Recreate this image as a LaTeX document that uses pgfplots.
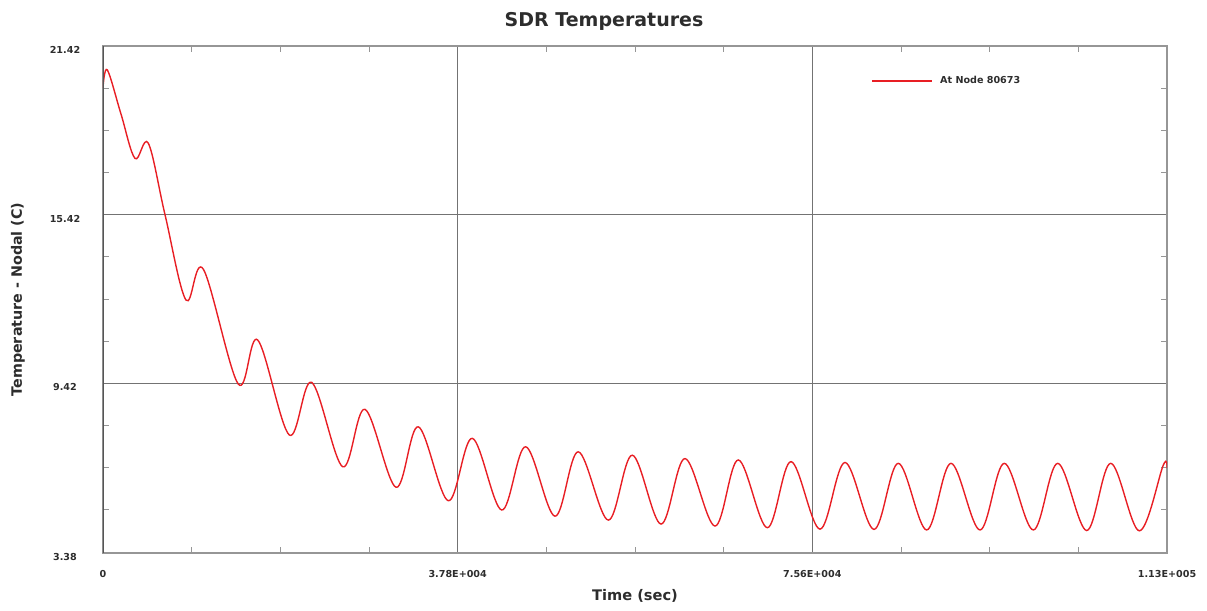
\documentclass[border=0pt]{standalone}
\usepackage{fontspec}
\setmainfont{DejaVu Sans}
\usepackage{pgfplots}
\pgfplotsset{compat=1.18}
\definecolor{curve}{RGB}{232,30,36}
\definecolor{frame}{RGB}{150,150,150}
\definecolor{gridc}{RGB}{115,115,115}
\definecolor{txt}{RGB}{45,45,45}
\begin{document}
\begin{tikzpicture}
\begin{axis}[
  name=ax, at={(0,0)}, anchor=south west,
  scale only axis, width=1064pt, height=507pt,
  xmin=0, xmax=113400, ymin=3.38, ymax=21.42,
  scaled x ticks=false, scaled y ticks=false,
  xtick={0,37800,75600,113400},
  xticklabels={0,3.78E+004,7.56E+004,1.13E+005},
  ytick={3.38,9.42,15.42,21.42},
  yticklabels={3.38,9.42,15.42,21.42},
  minor xtick={9450,18900,28350,47250,56700,66150,85050,94500,103950},
  minor ytick={4.92,6.42,7.92,10.92,12.42,13.92,16.92,18.42,19.92},
  major tick length=0pt, minor tick length=6pt, tick align=inside,
  tick style={draw=frame, line width=0.8pt},
  grid=major, minor grid style={draw=none},
  major grid style={draw=gridc, line width=0.9pt},
  axis line style={draw=frame, line width=1.3pt},
  xticklabel style={font=\bfseries\fontsize{9.6}{11}\selectfont, text=txt, anchor=center, yshift=-21pt},
  yticklabel style={font=\bfseries\fontsize{9.6}{11}\selectfont, text=txt, anchor=center, xshift=-38pt, yshift=-4pt},
  title={SDR Temperatures},
  title style={font=\bfseries\fontsize{19}{22}\selectfont, text=txt, at={(rel axis cs:0.4709,1.0533)}, anchor=center, yshift=-8pt},
  xlabel={Time (sec)},
  xlabel style={font=\bfseries\fontsize{14.6}{17}\selectfont, text=txt, at={(rel axis cs:0.5,-0.0848)}, anchor=center},
  ylabel={Temperature - Nodal (C)},
  ylabel style={font=\bfseries\fontsize{14.3}{17}\selectfont, text=txt, at={(rel axis cs:-0.0799,0.5)}, anchor=center},
  legend style={draw=none, fill=none, inner sep=0pt, outer sep=0pt,
    at={(rel axis cs:0.7225,0.931)}, anchor=west,
    font=\bfseries\fontsize{9.6}{11}\selectfont, text=txt,
    nodes={inner sep=0pt}, column sep=7pt},
  legend image code/.code={\draw[#1] (0pt,0pt) -- (60pt,0pt);},
]
\addplot[draw=curve, line width=1.4pt, smooth, tension=0.58] coordinates {
(0,19.93) (458,20.57) (1918,19.0) (3411,17.42) (4828,17.96) (6608,15.42)
(8846,12.38) (10690,13.48) (14420,9.39) (16488,10.96)
(19856,7.58) (22243,9.45) (25547,6.45)
(27924,8.49) (31228,5.72) (33605,7.87)
(36802,5.24) (39360,7.46) (42493,4.91) (45051,7.16)
(48174,4.69) (50657,6.98) (53855,4.55)
(56413,6.86) (59472,4.41) (62030,6.74)
(65227,4.34) (67710,6.69) (70801,4.28) (73327,6.63)
(76418,4.23) (79082,6.60) (82173,4.22)
(84763,6.57) (87790,4.20) (90380,6.57)
(93471,4.20) (96061,6.57) (99152,4.20) (101752,6.57)
(104844,4.18) (107402,6.57) (110450,4.17)
(113008,6.51) (113400,6.40)
};
\addlegendentry{At Node 80673}
\draw[draw={rgb,255:red,85;green,85;blue,85}, line width=1.3pt] (rel axis cs:0,0) -- (rel axis cs:0,1);
\end{axis}
\pgfresetboundingbox
\path[use as bounding box] ([xshift=-103pt,yshift=-57pt]ax.south west) rectangle ([xshift=40pt,yshift=46pt]ax.north east);
\end{tikzpicture}
\end{document}
